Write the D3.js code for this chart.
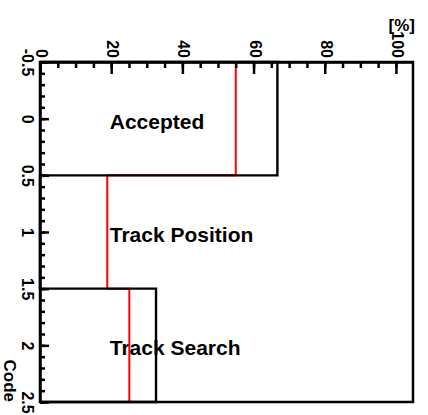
<!DOCTYPE html>
<meta charset="utf-8">
<style>
body { margin: 0; background: #fff; }
svg { font-family: "Liberation Sans", Arial, sans-serif; font-weight: bold; }
.hist { fill: none; }
.axis path, .axis line { stroke: #000; }
.axis text { fill: #000; }
</style>
<svg width="428" height="415"></svg>
<script src="https://d3js.org/d3.v7.min.js"></script>
<script>

// bins (code) and the two histograms, in percent
var codes = ["Accepted", "Track Position", "Track Search"];
var binCenters = [0, 1, 2];
var blackValues = [66.7, 0, 32.6];
var redValues = [55.0, 18.9, 25.1];

var xMajor = [0, 20, 40, 60, 80, 100];
var yMajor = [-0.5, 0, 0.5, 1, 1.5, 2, 2.5];

var svg = d3.select("svg");

var frameLeft = 40, frameRight = 413, frameTop = 62, frameBottom = 402;

var x = d3.scaleLinear()
    .domain([0, 104.8])
    .range([frameLeft, frameRight]);

var y = d3.scaleLinear()
    .domain([-0.5, 2.5])
    .range([frameTop, frameBottom]);

// labels for each code, drawn underneath the lines
svg.append("g")
  .selectAll("text")
  .data(codes)
  .enter().append("text")
    .attr("x", x(19.6))
    .attr("y", function(d, i) { return y(binCenters[i]) + 10; })
    .attr("font-size", 21)
    .text(function(d) { return d; });

// step outline of a horizontal histogram
function outline(values) {
  var pts = [[0, -0.5]];
  values.forEach(function(v, i) {
    pts.push([v, binCenters[i] - 0.5]);
    pts.push([v, binCenters[i] + 0.5]);
  });
  pts.push([0, 2.5]);
  return pts;
}

var line = d3.line()
    .x(function(d) { return x(d[0]); })
    .y(function(d) { return y(d[1]); });

svg.append("path")
    .attr("class", "hist")
    .attr("stroke", "#ff0000")
    .attr("stroke-width", 2)
    .attr("d", line(outline(redValues)));

svg.append("path")
    .attr("class", "hist")
    .attr("stroke", "#000")
    .attr("stroke-width", 2.4)
    .attr("d", line(outline(blackValues)));

// frame
svg.append("rect")
    .attr("x", frameLeft)
    .attr("y", frameTop)
    .attr("width", frameRight - frameLeft)
    .attr("height", frameBottom - frameTop)
    .attr("fill", "none")
    .attr("stroke", "#000")
    .attr("stroke-width", 2.5);

function plainFont(g, size) {
  g.attr("font-family", null).attr("font-size", size);
}

// x axis on top, ticks pointing into the frame
svg.append("g")
    .attr("class", "axis")
    .attr("transform", "translate(0," + frameTop + ")")
    .call(d3.axisBottom(x).tickValues(d3.range(0, 105, 5)).tickSize(6).tickSizeOuter(0).tickFormat(""))
    .call(function(g) { g.selectAll("line").attr("stroke-width", 2.5); g.select(".domain").attr("stroke-width", 2.5); });

svg.append("g")
    .attr("class", "axis")
    .attr("transform", "translate(0," + frameTop + ")")
    .call(d3.axisBottom(x).tickValues(xMajor).tickSize(12).tickSizeOuter(0)
      .tickFormat(function(d) { return String(d); }))
    .call(plainFont, 16)
    .call(function(g) {
      g.select(".domain").remove();
      g.selectAll("line").attr("stroke-width", 2.5);
      g.selectAll("text")
        .attr("y", null).attr("dy", null)
        .attr("text-anchor", "end")
        .attr("dominant-baseline", "central")
        .attr("transform", "translate(1,-4) rotate(90)");
    });

// y axis on the left, ticks pointing into the frame
svg.append("g")
    .attr("class", "axis")
    .attr("transform", "translate(" + frameLeft + ",0)")
    .call(d3.axisRight(y).tickValues(d3.range(-5, 26, 1).map(function(d) { return d / 10; }))
      .tickSize(5).tickSizeOuter(0).tickFormat(""))
    .call(function(g) { g.selectAll("line").attr("stroke-width", 2.5); g.select(".domain").attr("stroke-width", 2.5); });

svg.append("g")
    .attr("class", "axis")
    .attr("transform", "translate(" + frameLeft + ",0)")
    .call(d3.axisRight(y).tickValues(yMajor).tickSize(9).tickSizeOuter(0)
      .tickFormat(function(d) { return String(d); }))
    .call(plainFont, 16)
    .call(function(g) {
      g.select(".domain").remove();
      g.selectAll("line").attr("stroke-width", 2.5);
      g.selectAll("text")
        .attr("x", null).attr("dy", null)
        .attr("text-anchor", "middle")
        .attr("dominant-baseline", "central")
        .attr("transform", "translate(-13,0) rotate(90)");
    });

// axis titles
svg.append("text")
    .attr("transform", "translate(9," + frameBottom + ") rotate(90)")
    .attr("text-anchor", "end")
    .attr("dominant-baseline", "central")
    .attr("font-size", 17)
    .text("Code");

svg.append("text")
    .attr("x", 415)
    .attr("y", 31)
    .attr("text-anchor", "end")
    .attr("font-size", 17)
    .text("[%]");

</script>
